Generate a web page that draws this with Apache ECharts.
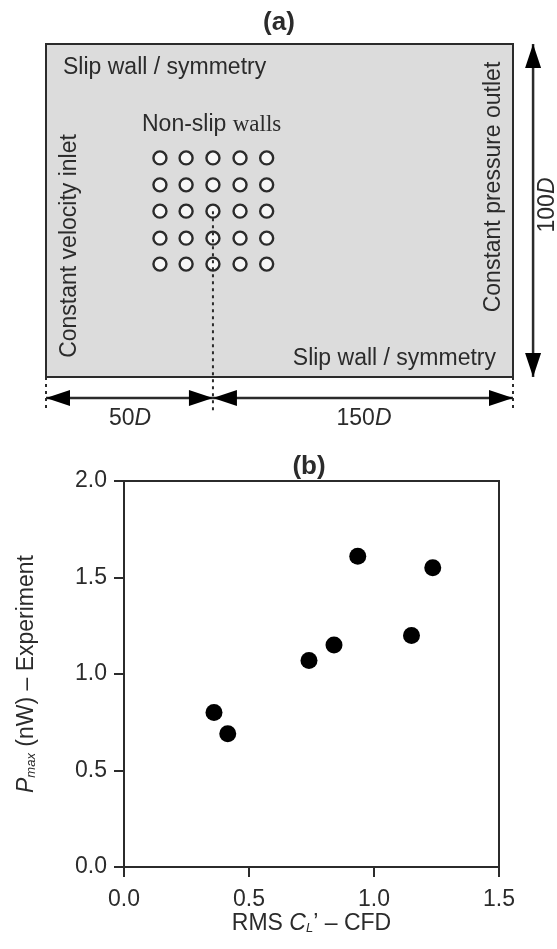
<!DOCTYPE html>
<html>
<head>
<meta charset="utf-8">
<style>html,body{margin:0;padding:0;background:#fff}#c{width:557px;height:949px}</style>
<script src="https://cdn.jsdelivr.net/npm/echarts@6/dist/echarts.min.js"></script>
</head>
<body>
<div id="c"></div>
<script>
// Panel (b) values
const rmsCL = [0.36, 0.415, 0.74, 0.84, 0.935, 1.15, 1.235];
const pMax = [0.80, 0.69, 1.07, 1.15, 1.61, 1.20, 1.55];
const xTicks = [0, 0.5, 1.0, 1.5];
const yTicks = [0, 0.5, 1.0, 1.5, 2.0];
// Panel (a) schematic, in the schematic's own units
const cylinderCols = [48.8, 60, 71.5, 83.1, 94.5];
const cylinderRows = [65.8, 57.7, 49.8, 41.7, 33.9];
const dottedLines = [
  [[200, 100], [214, 100]],
  [[200, 0], [214, 0]],
  [[0, 0], [0, -10]],
  [[200, 0], [200, -10]],
  [[71.5, 49.8], [71.5, -10]]
];
const dimensionArrows = [
  [0, -6.3, 71.5, -6.3],
  [71.5, -6.3, 200, -6.3],
  [208.6, 100, 208.6, 0]
];
const titles = ['(a)', '(b)'];

const INK = '#2b2b2b';
const FONT = '"Liberation Sans", Arial, sans-serif';
const FS = 23;
const cylinders = [];
cylinderRows.forEach(r => cylinderCols.forEach(c => cylinders.push([c, r])));

function label(x, y, text, extra) {
  return Object.assign({
    type: 'text', x, y, silent: true,
    style: Object.assign({
      text, fill: INK, font: FS + 'px ' + FONT, align: 'center', verticalAlign: 'middle',
      rich: {
        i: {fontStyle: 'italic', fontSize: FS, fontFamily: FONT, fill: INK},
        s: {fontFamily: '"Liberation Serif", serif', fontSize: FS, fill: INK},
        n: {fontFamily: FONT, fontSize: FS, fill: INK}
      }
    }, extra && extra.style || {})
  }, extra && extra.rotation ? {rotation: extra.rotation} : {});
}

const chart = echarts.init(document.getElementById('c'), null, {renderer: 'canvas'});
chart.setOption({
  animation: false,
  backgroundColor: '#fff',
  title: [
    {text: titles[0], left: 279, top: 10, textAlign: 'center', padding: 0,
     textStyle: {fontFamily: FONT, fontSize: 26, fontWeight: 'bold', color: INK}},
    {text: titles[1], left: 309, top: 454, textAlign: 'center', padding: 0,
     textStyle: {fontFamily: FONT, fontSize: 26, fontWeight: 'bold', color: INK}}
  ],
  grid: [
    {left: 46, top: 44, width: 467, height: 333, show: true, backgroundColor: '#dcdcdc', borderColor: INK, borderWidth: 2},
    {left: 124, top: 481, width: 375, height: 386, show: true, backgroundColor: '#fff', borderColor: INK, borderWidth: 2}
  ],
  xAxis: [
    {gridIndex: 0, type: 'value', min: 0, max: 200, show: false},
    {gridIndex: 1, type: 'value', min: 0, max: 1.5, interval: 0.5,
     axisLine: {show: true, onZero: false, lineStyle: {color: INK, width: 2}},
     axisTick: {show: true, length: 10, lineStyle: {color: INK, width: 2}},
     splitLine: {show: false},
     axisLabel: {color: INK, fontFamily: FONT, fontSize: FS, margin: 21, showMinLabel: true, showMaxLabel: true,
       customValues: xTicks, formatter: v => v.toFixed(1)},
     name: '{n|RMS }{i|C}{sub|L}{n|’ – CFD}',
     nameLocation: 'middle', nameGap: 44,
     nameTextStyle: {rich: {
       n: {fontFamily: FONT, fontSize: FS, color: INK},
       i: {fontFamily: FONT, fontSize: FS, fontStyle: 'italic', color: INK},
       sub: {fontFamily: FONT, fontSize: 13, fontStyle: 'italic', color: INK, verticalAlign: 'bottom', padding: [10, 0, 0, 0]}
     }}}
  ],
  yAxis: [
    {gridIndex: 0, type: 'value', min: 0, max: 100, show: false},
    {gridIndex: 1, type: 'value', min: 0, max: 2, interval: 0.5,
     axisLine: {show: true, onZero: false, lineStyle: {color: INK, width: 2}},
     axisTick: {show: true, length: 10, lineStyle: {color: INK, width: 2}},
     splitLine: {show: false},
     axisLabel: {color: INK, fontFamily: FONT, fontSize: FS, margin: 17, showMinLabel: true, showMaxLabel: true,
       customValues: yTicks, formatter: v => v.toFixed(1)},
     name: '{i|P}{sub|max}{n| (nW) – Experiment}',
     nameLocation: 'middle', nameGap: 86,
     nameTextStyle: {rich: {
       n: {fontFamily: FONT, fontSize: FS, color: INK},
       i: {fontFamily: FONT, fontSize: FS, fontStyle: 'italic', color: INK},
       sub: {fontFamily: FONT, fontSize: 13, fontStyle: 'italic', color: INK, padding: [10, 0, 0, 0]}
     }}}
  ],
  series: [
    {type: 'scatter', name: 'cylinders', xAxisIndex: 0, yAxisIndex: 0, data: cylinders, symbol: 'circle', symbolSize: 13,
     itemStyle: {color: '#f7f7f7', borderColor: INK, borderWidth: 2.4, opacity: 1}, z: 3},
    ...dottedLines.map((seg, i) => ({
      type: 'line', name: 'dotted' + i, xAxisIndex: 0, yAxisIndex: 0, data: seg, showSymbol: false, symbol: 'none', clip: false,
      lineStyle: {color: INK, width: 2, type: [3, 4]}, z: 4
    })),
    {type: 'custom', name: 'dimensions', xAxisIndex: 0, yAxisIndex: 0, data: dimensionArrows, clip: false, z: 5,
     encode: {x: [0, 2], y: [1, 3]},
     renderItem: (params, api) => {
       const a = api.coord([api.value(0), api.value(1)]);
       const b = api.coord([api.value(2), api.value(3)]);
       const len = Math.hypot(b[0] - a[0], b[1] - a[1]);
       const ux = (b[0] - a[0]) / len, uy = (b[1] - a[1]) / len;
       const head = (p, dir) => {
         const L = 24, W = 8;
         const bx = p[0] - dir * ux * L, by = p[1] - dir * uy * L;
         return {type: 'polygon', shape: {points: [p, [bx - uy * W, by + ux * W], [bx + uy * W, by - ux * W]]},
                 style: {fill: '#000'}};
       };
       return {type: 'group', children: [
         {type: 'line', shape: {x1: a[0], y1: a[1], x2: b[0], y2: b[1]}, style: {stroke: INK, lineWidth: 2.5}},
         head(a, -1), head(b, 1)
       ]};
     }},
    {type: 'scatter', name: 'RMS vs Pmax', xAxisIndex: 1, yAxisIndex: 1,
     data: rmsCL.map((x, i) => [x, pMax[i]]), symbol: 'circle', symbolSize: 17,
     itemStyle: {color: '#000', opacity: 1}, z: 5}
  ],
  graphic: {elements: [
    label(63, 68, 'Slip wall / symmetry', {style: {align: 'left'}}),
    label(496, 359, 'Slip wall / symmetry', {style: {align: 'right'}}),
    label(142, 125, '{n|Non-slip }{s|walls}', {style: {align: 'left'}}),
    label(70, 246, 'Constant velocity inlet', {rotation: Math.PI / 2}),
    label(494, 187, 'Constant pressure outlet', {rotation: Math.PI / 2}),
    label(548, 205, '{n|100}{i|D}', {rotation: Math.PI / 2}),
    label(130, 419, '{n|50}{i|D}'),
    label(364, 419, '{n|150}{i|D}')
  ]}
});
</script>
</body>
</html>
